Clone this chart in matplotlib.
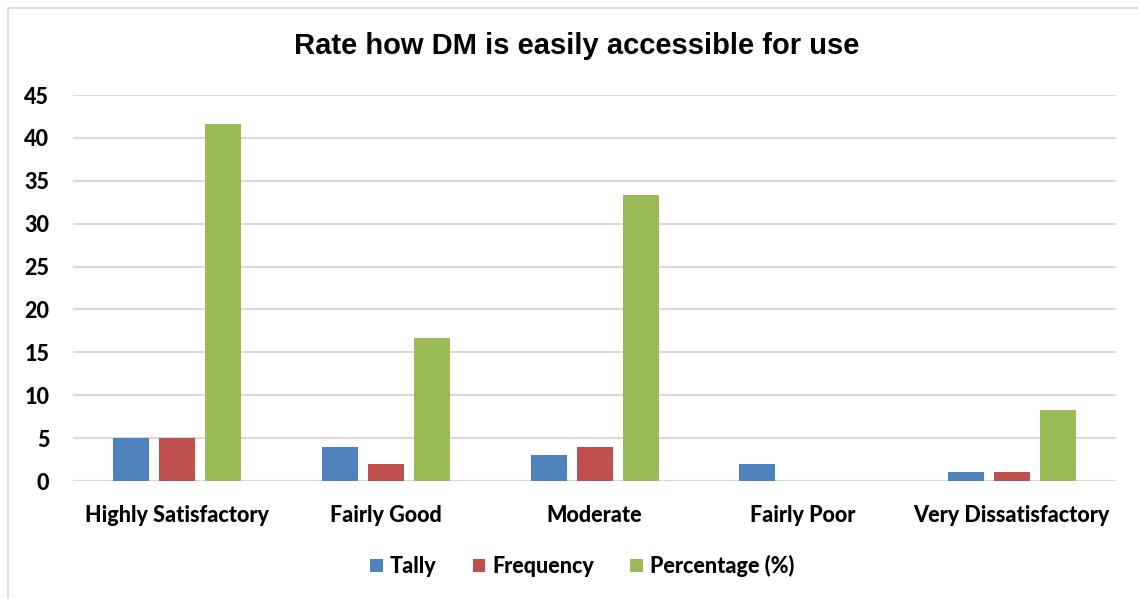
import numpy as np
import matplotlib
matplotlib.use("Agg")
import matplotlib.pyplot as plt
from matplotlib.patches import Rectangle

# survey responses per rating
categories = ["Highly Satisfactory", "Fairly Good", "Moderate", "Fairly Poor", "Very Dissatisfactory"]
tally = [5, 4, 3, 2, 1]
frequency = [5, 2, 4, 0, 1]
percentage = [41.67, 16.67, 33.33, 0, 8.33]

series = [("Tally", tally, "#4F81BD"),
          ("Frequency", frequency, "#C0504D"),
          ("Percentage (%)", percentage, "#9BBB59")]

W, H = 1138, 599
fig = plt.figure(figsize=(W / 100, H / 100), dpi=100)

# chart area border
fig.patches.append(Rectangle((8 / W, -0.01), 1.2, 1 - 8 / H + 0.01, transform=fig.transFigure,
                             fill=False, edgecolor="#d9d9d9", linewidth=1.2))

ax = fig.add_axes([73 / W, 1 - 481 / H, (1116 - 73) / W, (481 - 95) / H])

x = np.arange(len(categories))
bw = 36 / 208.6
step = 46 / 208.6
for i, (name, vals, col) in enumerate(series):
    ax.bar(x + (i - 1) * step, vals, width=bw, color=col, label=name, zorder=3)

ax.set_xlim(-0.5, len(categories) - 0.5)
ax.set_ylim(0, 45)
ax.set_yticks(range(0, 50, 5))
ax.yaxis.grid(True, color="#d9d9d9", linewidth=1.5, zorder=0)
for s in ax.spines.values():
    s.set_visible(False)
ax.axhline(0, color="#d9d9d9", linewidth=1.5, zorder=2)
ax.tick_params(length=0)
ax.tick_params(axis="y", pad=17)
ax.tick_params(axis="x", pad=17)
ax.set_xticks(x)
ax.set_xticklabels(categories)
for lab in ax.get_xticklabels() + ax.get_yticklabels():
    lab.set_fontfamily("Lato")
    lab.set_fontweight("black")
    lab.set_fontsize(15.5)

fig.text(577 / W, 1 - 46 / H, "Rate how DM is easily accessible for use",
         ha="center", va="center", fontfamily="Liberation Sans", fontweight="bold", fontsize=21)

leg = fig.legend(loc="center", bbox_to_anchor=(582 / W, 1 - 566 / H), ncol=3, frameon=False,
                 prop={"family": "Lato", "weight": "black", "size": 15.5},
                 handlelength=0.6, handleheight=0.6, handletextpad=0.3, columnspacing=1.7)

fig.savefig("out.png", dpi=100)
